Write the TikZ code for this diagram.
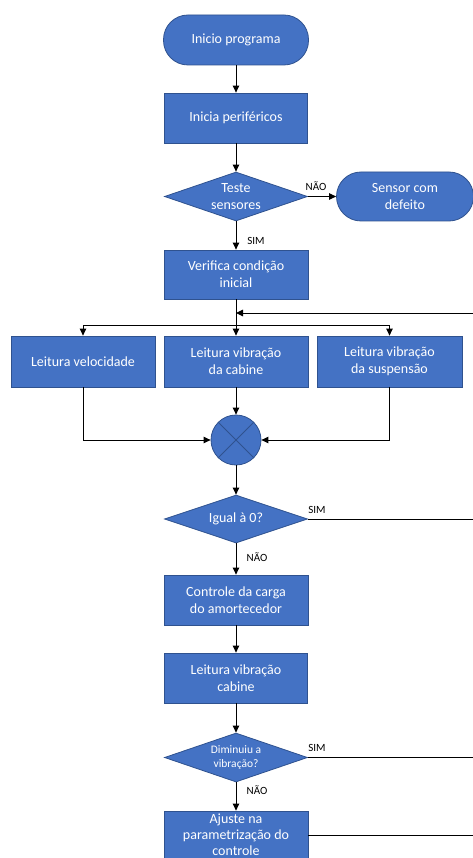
\documentclass[tikz,border=0pt]{standalone}
\usepackage{fontspec}
\setmainfont{Carlito}
\usetikzlibrary{shapes.geometric,arrows.meta}
\definecolor{blu}{HTML}{4472C4}
\definecolor{bdr}{HTML}{2F528F}
\begin{document}
\begin{tikzpicture}[x=1pt,y=-1pt,
  box/.style={draw=bdr, line width=0.8pt, fill=blu, minimum width=144pt, minimum height=50pt, text=white, align=center, font=\fontsize{14}{17}\selectfont, inner sep=1pt},
  term/.style={box, rounded corners=24.5pt},
  dec/.style={draw=bdr, line width=0.8pt, fill=blu, diamond, aspect=2.92, minimum width=143pt, minimum height=49pt, inner sep=0pt, text=white, align=center, font=\fontsize{14}{17}\selectfont},
  lbl/.style={font=\fontsize{11}{13}\selectfont, text=black, inner sep=0pt},
  arr/.style={-{Triangle[length=7pt,width=6.5pt]}, line width=1pt, black},
  ln/.style={line width=1pt, black}
]
\useasboundingbox (0,0) rectangle (473,858);
\clip (0,0) rectangle (473,858);
\fill[white] (0,0) rectangle (473,858);

\node[term, minimum width=145pt] (start) at (236,40) {Inicio programa};
\node[box, minimum width=143pt] (init) at (236,118) {Inicia periféricos};
\node[dec] (test) at (236,196.5) {Teste\\sensores};
\node[term, minimum width=137pt, minimum height=49pt] (sensor) at (405,196.5) {Sensor com\\defeito};
\node[box, minimum height=49pt] (verif) at (236,274.5) {Verifica condição\\inicial};
\node[box, minimum height=51pt] (vel) at (83,361.5) {Leitura velocidade};
\node[box, minimum height=51pt] (cab) at (236,361.5) {Leitura vibração\\da cabine};
\node[box, minimum width=145pt, minimum height=51pt] (susp) at (389.5,361.5) {Leitura vibração\\da suspensão};
\node[circle, draw=bdr, line width=0.8pt, fill=blu, minimum size=50pt, inner sep=0pt] (sum) at (236,440) {};
\draw[bdr, line width=0.8pt] (sum.north west) -- (sum.south east) (sum.north east) -- (sum.south west);
\node[dec, minimum height=48pt] (igual) at (236,519) {Igual à 0?};
\node[box] (ctrl) at (236,600) {Controle da carga\\do amortecedor};
\node[box, minimum width=143pt] (leit) at (236,678) {Leitura vibração\\cabine};
\node[dec, font=\fontsize{11.5}{14}\selectfont] (dim) at (236,757.5) {Diminuiu a\\vibração?};
\node[box, inner ysep=0pt, minimum height=48pt, font=\fontsize{14}{16}\selectfont] (ajuste) at (236,835) {Ajuste na\\parametrização do\\controle};

\coordinate (j1) at (236,325);
\coordinate (jl) at (83,325);
\coordinate (jr) at (389.5,325);
\coordinate (fb) at (236,313);
\coordinate (e1) at (480,313);
\coordinate (e2) at (480,519);
\coordinate (e3) at (480,757.5);
\coordinate (e4) at (480,835);

\draw[arr] (start) -- (init);
\draw[arr] (init) -- (test);
\draw[arr] (test) -- (sensor);
\draw[arr] (test) -- (verif);
\draw[ln] (verif.south) -- (j1);
\draw[ln] (jl) -- (jr);
\draw[arr] (jl) -- (vel.north);
\draw[arr] (j1) -- (cab.north);
\draw[arr] (jr) -- (susp.north);
\draw[arr] (e1) -- (fb);
\draw[arr] (vel.south) |- (sum.west);
\draw[arr] (susp.south) |- (sum.east);
\draw[arr] (cab) -- (sum);
\draw[arr] (sum) -- (igual);
\draw[ln] (igual.east) -- (e2);
\draw[arr] (igual) -- (ctrl);
\draw[arr] (ctrl) -- (leit);
\draw[arr] (leit) -- (dim);
\draw[ln] (dim.east) -- (e3);
\draw[arr] (dim) -- (ajuste);
\draw[ln] (ajuste.east |- e4) -- (e4);

\node[lbl] (n1) at (316,186) {NÃO};
\node[lbl] (s1) at (256,241) {SIM};
\node[lbl] (s2) at (317,510) {SIM};
\node[lbl] (n2) at (257,557) {NÃO};
\node[lbl] (s3) at (317,748) {SIM};
\node[lbl] (n3) at (257,790) {NÃO};
\end{tikzpicture}
\end{document}
